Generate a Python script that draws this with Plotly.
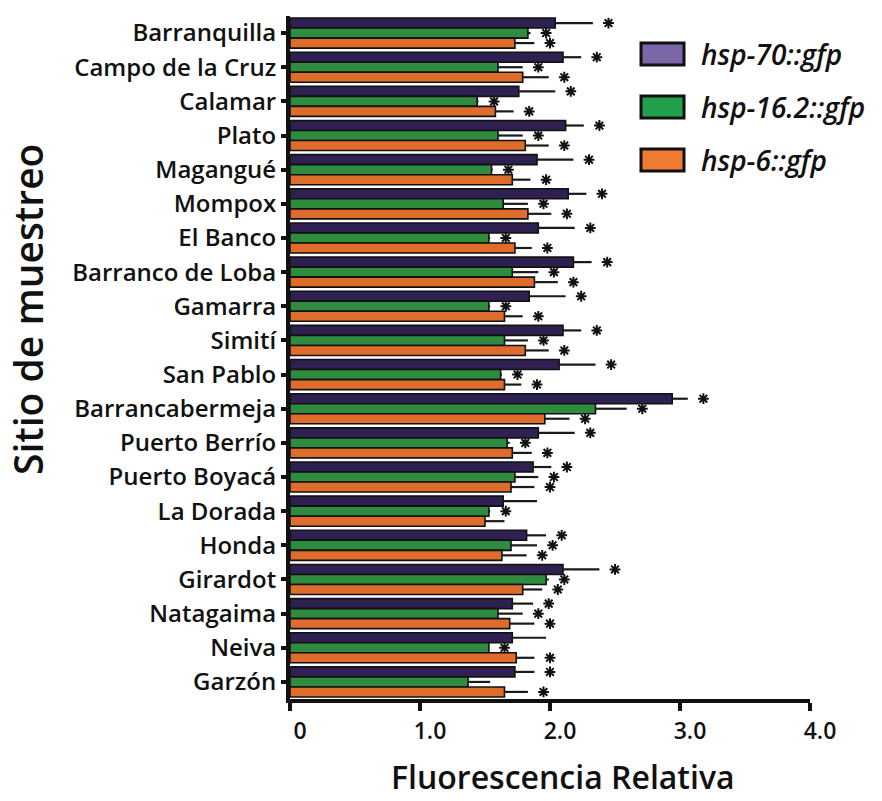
import plotly.graph_objects as go

# Sampling sites along the river, top to bottom
sites = ["Barranquilla", "Campo de la Cruz", "Calamar", "Plato", "Magangué",
         "Mompox", "El Banco", "Barranco de Loba", "Gamarra", "Simití",
         "San Pablo", "Barrancabermeja", "Puerto Berrío", "Puerto Boyacá",
         "La Dorada", "Honda", "Girardot", "Natagaima", "Neiva", "Garzón"]

series_names = ["hsp-70::gfp", "hsp-16.2::gfp", "hsp-6::gfp"]

hsp70 = [2.04, 2.10, 1.76, 2.12, 1.90, 2.14, 1.91, 2.18, 1.84, 2.10,
         2.07, 2.94, 1.91, 1.87, 1.64, 1.82, 2.10, 1.71, 1.71, 1.73]
hsp70_err = [0.29, 0.14, 0.28, 0.14, 0.28, 0.14, 0.28, 0.14, 0.28, 0.14,
             0.28, 0.12, 0.28, 0.14, 0.26, 0.15, 0.28, 0.16, 0.26, 0.15]
hsp70_sig = [1, 1, 1, 1, 1, 1, 1, 1, 1, 1, 1, 1, 1, 1, 0, 1, 1, 1, 0, 1]

hsp16 = [1.83, 1.60, 1.44, 1.60, 1.55, 1.64, 1.53, 1.71, 1.53, 1.65,
         1.62, 2.35, 1.67, 1.73, 1.53, 1.70, 1.97, 1.60, 1.53, 1.37]
hsp16_err = [0.02, 0.19, 0.01, 0.19, 0.01, 0.19, 0.01, 0.20, 0.01, 0.18,
             0.01, 0.24, 0.02, 0.18, 0.01, 0.20, 0.02, 0.19, 0.00, 0.17]
hsp16_sig = [1, 1, 1, 1, 1, 1, 1, 1, 1, 1, 1, 1, 1, 1, 1, 1, 1, 1, 1, 0]

hsp6 = [1.73, 1.79, 1.58, 1.81, 1.71, 1.83, 1.73, 1.88, 1.65, 1.81,
        1.65, 1.96, 1.71, 1.70, 1.50, 1.63, 1.79, 1.69, 1.74, 1.65]
hsp6_err = [0.15, 0.20, 0.14, 0.18, 0.14, 0.18, 0.13, 0.18, 0.14, 0.18,
            0.13, 0.19, 0.15, 0.18, 0.15, 0.19, 0.15, 0.19, 0.14, 0.18]
hsp6_sig = [1, 1, 1, 1, 1, 1, 1, 1, 1, 1, 1, 1, 1, 1, 0, 1, 1, 1, 1, 1]

x_ticks = [0, 1, 2, 3, 4]
x_tick_labels = ["0", "1.0", "2.0", "3.0", "4.0"]

bar_fill = ["#2e2050", "#2f8c3e", "#de6d2c"]
legend_fill = ["#7b67a8", "#22a04c", "#ef7a32"]

values = [hsp70, hsp16, hsp6]
errors = [hsp70_err, hsp16_err, hsp6_err]
signif = [hsp70_sig, hsp16_sig, hsp6_sig]

W, H = 882, 801
M_L, M_R, M_T, M_B = 290, 72, 16, 102
BAR_W = 0.293
STAR_GAP = 0.12
FONT = "Open Sans"
INK = "#111111"

idx = list(range(len(sites)))
fig = go.Figure()

for k in range(3):
    off = (k - 1) * BAR_W - BAR_W / 2
    fig.add_trace(go.Bar(
        x=values[k], y=idx, orientation="h", name=series_names[k],
        width=BAR_W, offset=off,
        marker=dict(color=bar_fill[k], line=dict(color=INK, width=1.6)),
        error_x=dict(type="data", array=errors[k], arrayminus=[0] * len(sites),
                     symmetric=False, color="#1a1a1a", thickness=2.2, width=0),
        showlegend=False,
    ))

# significance asterisks just past each error bar
for k in range(3):
    xs, ys = [], []
    for i in idx:
        if signif[k][i]:
            xs.append(values[k][i] + errors[k][i] + STAR_GAP)
            ys.append(i + (k - 1) * BAR_W)
    fig.add_trace(go.Scatter(
        x=xs, y=ys, mode="markers", showlegend=False,
        marker=dict(symbol="asterisk-open", size=9, color=INK,
                    line=dict(color=INK, width=2)),
    ))

plot_w = W - M_L - M_R
plot_h = H - M_T - M_B


def px_to_paper(px, py):
    return (px - M_L) / plot_w, (H - M_B - py) / plot_h


# hand-drawn legend: swatches with labels
shapes, annotations = [], []
for k, name in enumerate(series_names):
    cy = 54 + k * 53
    x0, y0 = px_to_paper(641, cy - 11)
    x1, y1 = px_to_paper(684, cy + 11)
    shapes.append(dict(type="rect", xref="paper", yref="paper",
                       x0=x0, x1=x1, y0=y0, y1=y1,
                       fillcolor=legend_fill[k],
                       line=dict(color=INK, width=3)))
    tx, ty = px_to_paper(699, cy)
    annotations.append(dict(xref="paper", yref="paper", x=tx, y=ty,
                            xanchor="left", yanchor="middle", showarrow=False,
                            text=f"<i>{name}</i>",
                            font=dict(family=FONT, size=28, color=INK,
                                      weight=600)))

# axis titles
tx, ty = px_to_paper(28, 310)
annotations.append(dict(xref="paper", yref="paper", x=tx, y=ty,
                        xanchor="center", yanchor="middle", showarrow=False,
                        textangle=-90, text="Sitio de muestreo",
                        font=dict(family=FONT, size=39, color=INK, weight=600)))
tx, ty = px_to_paper(563, 776)
annotations.append(dict(xref="paper", yref="paper", x=tx, y=ty,
                        xanchor="center", yanchor="middle", showarrow=False,
                        text="Fluorescencia Relativa",
                        font=dict(family=FONT, size=32, color=INK, weight=600)))

fig.update_layout(
    width=W, height=H,
    margin=dict(l=M_L, r=M_R, t=M_T, b=M_B),
    plot_bgcolor="white", paper_bgcolor="white",
    barmode="overlay",
    shapes=shapes, annotations=annotations,
    font=dict(family=FONT, color=INK),
)

fig.update_xaxes(
    range=[0, 4], tickvals=x_ticks, ticktext=x_tick_labels,
    showgrid=False, zeroline=False,
    showline=True, linecolor=INK, linewidth=4,
    ticks="outside", ticklen=8, tickwidth=4, tickcolor=INK,
    ticklabelshift=10,
    tickfont=dict(family=FONT, size=23, color=INK, weight=600),
)

fig.update_yaxes(
    range=[len(sites) - 0.5, -0.5], tickvals=idx, ticktext=sites,
    showgrid=False, zeroline=False,
    showline=True, linecolor=INK, linewidth=4,
    ticks="outside", ticklen=5, tickwidth=4, tickcolor=INK,
    tickfont=dict(family=FONT, size=24, color=INK, weight=600),
)

fig.write_html("out.html")
